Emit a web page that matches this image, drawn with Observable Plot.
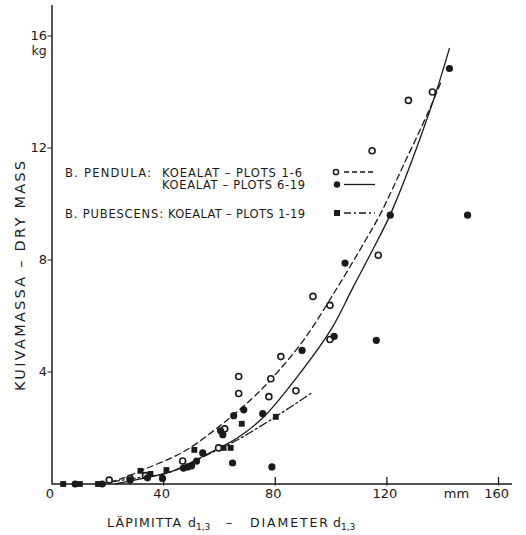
<!DOCTYPE html>
<html><head><meta charset="utf-8">
<script src="https://cdn.jsdelivr.net/npm/d3@7"></script>
<script src="https://cdn.jsdelivr.net/npm/@observablehq/plot@0.6"></script>
<style>
body{margin:0;background:#fff}
#wrap{width:526px;height:535px}
svg text{font-family:"DejaVu Sans",sans-serif}
</style></head><body><div id="wrap"></div>
<script>
const xTicks = [0, 40, 80, 120, 160];
const yTicks = [4, 8, 12, 16];

// B. pendula, plots 1-6 (open circles)
const pendula16 = [[20.5,0.14],[28,0.2],[33.5,0.3],[46.8,0.82],[59.7,1.29],[61.9,1.97],[66.9,3.84],[66.9,3.23],[77.7,3.12],[78.4,3.76],[82,4.55],[87.4,3.33],[93.5,6.7],[99.6,6.38],[99.6,5.16],[114.7,11.9],[116.9,8.17],[127.7,13.7],[136.3,14.0]];
// B. pendula, plots 6-19 (filled circles)
const pendula619 = [[8.3,0],[18,0],[28,0.14],[34.2,0.22],[39.6,0.2],[47.1,0.57],[48.6,0.61],[50,0.65],[51.8,0.82],[54,1.11],[60.4,1.9],[61.2,1.76],[64.7,0.75],[65.1,2.44],[68.7,2.65],[75.5,2.51],[78.8,0.61],[89.6,4.77],[101.1,5.27],[105,7.89],[116.2,5.13],[121.2,9.6],[142.4,14.84],[148.9,9.6]];
// B. pubescens, plots 1-19 (filled squares)
const pubescens = [[4,0],[10,0],[16.5,0],[31.7,0.47],[35.3,0.36],[41,0.5],[51,1.22],[61.5,1.29],[64,1.29],[68,2.15],[80.2,2.4]];

// fitted curves
const curve16 = [[17.3,0],[23.4,0.14],[34.2,0.57],[47.1,1.15],[59.7,2.04],[71.2,3.01],[78.4,3.73],[90.3,5.16],[102.5,7.06],[112.6,8.75],[118,9.71],[126,11.4],[134.9,13.3],[139.6,14.41]];
const curve619 = [[22.7,0],[31.7,0.18],[42.4,0.43],[54.3,1.0],[66.5,1.65],[75.9,2.4],[89.2,4.0],[100,5.52],[107.9,7.03],[116.9,8.75],[121.6,9.71],[136,13.51],[142.4,15.56]];
const curvePub = [[15.6,0],[28.1,0.18],[42.5,0.43],[54.3,0.98],[66.5,1.58],[80.1,2.4],[92.7,3.23]];

const ink = "#1a1a1a";

const chart = Plot.plot({
  width: 526, height: 535,
  marginLeft: 51.5, marginRight: 14, marginTop: 5, marginBottom: 51.5,
  x: {domain: [0, 165]},
  y: {domain: [0, 17.09]},
  style: {fontFamily: "DejaVu Sans, sans-serif", background: "#fff"},
  marks: [
    Plot.axisX({ticks: xTicks, tickSize: 0, tickPadding: 5, fontSize: 13, label: null, color: ink, dx: -2}),
    Plot.tickX(xTicks.slice(1), {x: d => d, insetTop: 472, insetBottom: -2, stroke: ink, strokeWidth: 1.3}),
    Plot.axisY({ticks: yTicks, tickSize: 4, tickPadding: 1, fontSize: 13, label: null, color: ink}),
    Plot.ruleX([0], {stroke: ink, strokeWidth: 1.5}),
    Plot.ruleY([0], {stroke: ink, strokeWidth: 1.5}),
    Plot.line(curve16, {x: "0", y: "1", curve: "catmull-rom", stroke: ink, strokeWidth: 1.3, strokeDasharray: "6,4"}),
    Plot.line(curve619, {x: "0", y: "1", curve: "catmull-rom", stroke: ink, strokeWidth: 1.3}),
    Plot.line(curvePub, {x: "0", y: "1", curve: "catmull-rom", stroke: ink, strokeWidth: 1.3, strokeDasharray: "8,3,2,3"}),
    Plot.dot(pendula16, {x: "0", y: "1", r: 3, stroke: ink, strokeWidth: 1.6, fill: "#fff"}),
    Plot.dot(pendula619, {x: "0", y: "1", r: 3.6, fill: ink, stroke: "none"}),
    Plot.dot(pubescens, {x: "0", y: "1", r: 3.3, symbol: "square", fill: ink, stroke: "none"}),
    Plot.text(["kg"], {frameAnchor: "top-left", text: d => d, textAnchor: "middle", lineAnchor: "middle", dx: -13, dy: 45, fontSize: 12.5, fill: ink}),
    Plot.text(["mm"], {frameAnchor: "bottom-right", text: d => d, textAnchor: "middle", lineAnchor: "middle", dx: -56, dy: 10, fontSize: 13, fill: ink})
  ]
});
document.getElementById("wrap").appendChild(chart);

const svg = d3.select(chart);
const g = svg.append("g").attr("fill", ink).attr("text-anchor", "start").style("font-family", "DejaVu Sans, sans-serif");

// y axis title
g.append("text").attr("transform", "translate(25,276) rotate(-90)")
  .attr("text-anchor", "middle").attr("font-size", 14.5)
  .attr("textLength", 230).attr("lengthAdjust", "spacing")
  .text("KUIVAMASSA – DRY MASS");

// x axis title with subscripts
const xt = g.append("text").attr("font-size", 12.5).attr("y", 527);
function piece(x, s, w) { xt.append("tspan").attr("x", x).attr("y", 527).attr("textLength", w).attr("lengthAdjust", "spacing").text(s); }
function sub(s) { xt.append("tspan").attr("font-size", 9).attr("dy", 3).text(s); xt.append("tspan").attr("dy", -3).text(""); }
piece(107, "LÄPIMITTA", 74);
xt.append("tspan").attr("x", 188).attr("y", 527).text("d"); sub("1,3");
piece(226, "–", 10);
piece(250, "DIAMETER", 78);
xt.append("tspan").attr("x", 333).attr("y", 527).text("d"); sub("1,3");

// legend
const lg = g.append("g").attr("font-size", 11.5);
function ltxt(x, y, s, w) {
  lg.append("text").attr("x", x).attr("y", y).attr("textLength", w).attr("lengthAdjust", "spacing").text(s);
}
ltxt(65, 176.5, "B. PENDULA:", 86);
ltxt(162, 176.5, "KOEALAT – PLOTS 1-6", 140);
ltxt(162, 189, "KOEALAT – PLOTS 6-19", 143);
ltxt(65, 217.5, "B. PUBESCENS:", 98);
ltxt(168, 217.5, "KOEALAT – PLOTS 1-19", 137);
lg.append("circle").attr("cx", 336).attr("cy", 172).attr("r", 2.6).attr("fill", "#fff").attr("stroke", ink).attr("stroke-width", 1.5);
lg.append("circle").attr("cx", 337).attr("cy", 184.5).attr("r", 3.2);
lg.append("rect").attr("x", 334).attr("y", 210).attr("width", 6).attr("height", 6);
const seg = (y, dash) => lg.append("line").attr("x1", 344).attr("x2", 375).attr("y1", y).attr("y2", y)
  .attr("stroke", ink).attr("stroke-width", 1.3).attr("stroke-dasharray", dash);
seg(172, "5,3");
seg(184.5, null);
seg(213, "7,3,2,3");
</script>
</body></html>
